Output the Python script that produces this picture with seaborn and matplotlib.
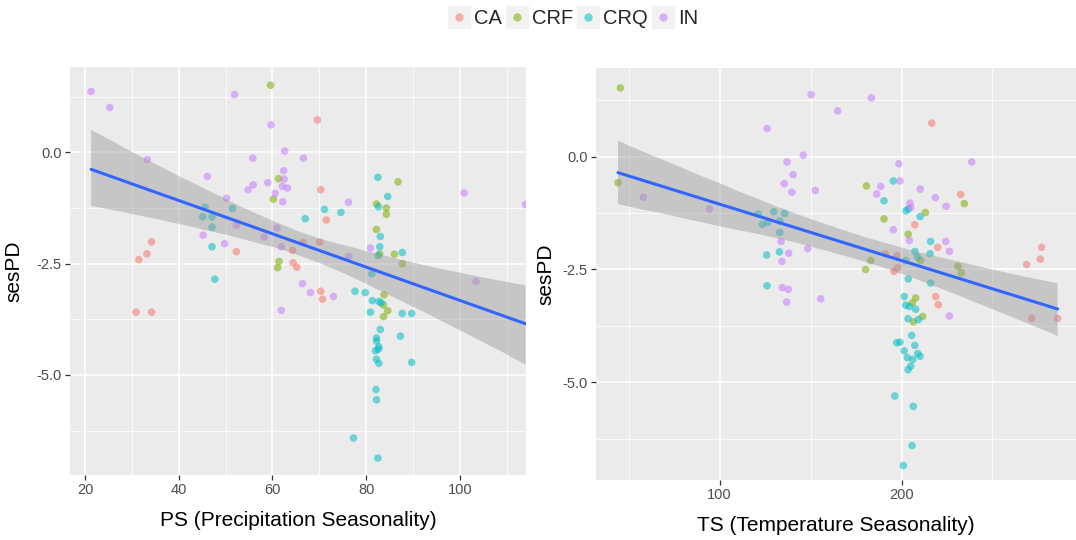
import matplotlib
matplotlib.use("Agg")
import matplotlib.pyplot as plt
import numpy as np
import pandas as pd
import seaborn as sns
from matplotlib.lines import Line2D
from matplotlib.legend_handler import HandlerTuple

sns.set_theme(style="darkgrid")
plt.rcParams["font.family"] = ["Liberation Sans", "DejaVu Sans"]
plt.rcParams["axes.unicode_minus"] = False

sites = ["CA", "CRF", "CRQ", "IN"]
site_colors = ["#F8766D", "#7CAE00", "#00BFC4", "#C77CFF"]

# ---- sesPD against precipitation seasonality (PS) ----
ps_ca_x = [31.5, 33.2, 34.2, 52.3, 64.3, 64.4, 65.2, 69.6, 70.3, 71.5, 66.5, 70.1, 70.3, 70.7, 30.9, 34.2]
ps_ca_y = [-2.41, -2.28, -2.01, -2.23, -2.20, -2.48, -2.58, 0.73, -0.84, -1.52, -2.02, -2.02, -3.12, -3.30, -3.59, -3.59]

ps_crf_x = [59.6, 61.3, 60.2, 61.4, 61.1, 86.8, 82.2, 84.3, 84.3, 82.2, 82.9, 86.0, 87.7, 83.8, 83.7, 84.6, 83.7]
ps_crf_y = [1.51, -0.59, -1.05, -2.45, -2.59, -0.66, -1.16, -1.25, -1.39, -1.73, -2.28, -2.29, -2.50, -3.20, -3.43, -3.56, -3.69]

ps_crq_x = [45.6, 45.1, 47.1, 51.5, 47.1, 47.1, 47.7, 82.5, 84.6, 71.1, 74.6, 67.0, 82.6, 83.0, 82.9, 82.5,
            87.7, 81.2, 77.6, 79.8, 81.3, 82.7, 83.2, 80.9, 87.7, 89.7, 83.0, 82.2, 82.2, 82.7, 82.0, 82.6,
            87.3, 82.2, 82.7, 89.7, 82.1, 82.2, 77.3, 82.5]
ps_crq_y = [-1.23, -1.45, -1.45, -1.26, -1.68, -2.12, -2.85, -0.56, -0.99, -1.28, -1.35, -1.49, -1.22, -1.89, -2.12, -2.32,
            -2.25, -2.73, -3.12, -3.15, -3.33, -3.35, -3.38, -3.59, -3.62, -3.62, -3.98, -4.17, -4.24, -4.37, -4.46, -4.42,
            -4.13, -4.65, -4.74, -4.72, -5.33, -5.56, -6.42, -6.87]

ps_in_x = [21.3, 25.3, 51.9, 59.7, 62.6, 33.3, 55.8, 46.1, 62.4, 62.5, 55.9, 54.8, 59.0, 62.1, 63.2, 60.6, 62.2, 50.2,
           52.3, 45.2, 61.0, 58.2, 49.8, 61.9, 66.6, 100.9, 114.0, 76.2, 80.9, 76.3, 103.4, 66.4, 68.1, 73.0, 61.9]
ps_in_y = [1.37, 1.01, 1.30, 0.62, 0.03, -0.16, -0.13, -0.54, -0.41, -0.60, -0.73, -0.84, -0.68, -0.76, -0.80, -0.92, -1.11, -1.03,
           -1.64, -1.86, -1.70, -1.90, -2.05, -2.12, -0.13, -0.91, -1.17, -1.12, -2.15, -2.34, -2.90, -2.95, -3.15, -3.24, -3.55]

# ---- sesPD against temperature seasonality (TS) ----
ts_ca_x = [216.6, 232.5, 207.3, 219.9, 197.4, 191.1, 195.9, 197.9, 277.0, 276.3, 268.8, 218.8, 220.2, 271.5, 285.8]
ts_ca_y = [0.74, -0.84, -1.51, -2.01, -2.19, -2.15, -2.54, -2.46, -2.01, -2.27, -2.39, -3.10, -3.28, -3.58, -3.58]

ts_crf_x = [45.5, 44.2, 180.7, 234.5, 213.1, 190.4, 203.7, 210.5, 183.1, 180.3, 231.0, 232.9, 207.8, 205.9, 211.6, 206.5]
ts_crf_y = [1.52, -0.58, -0.65, -1.04, -1.24, -1.38, -1.72, -2.30, -2.30, -2.50, -2.43, -2.57, -3.13, -3.24, -3.54, -3.66]

ts_crq_x = [195.5, 190.4, 121.3, 129.8, 135.8, 123.5, 126.5, 133.1, 133.1, 125.9, 132.9, 126.1, 202.5, 203.7, 210.2,
            216.0, 215.7, 207.4, 208.9, 202.3, 203.7, 216.0, 201.5, 202.3, 204.3, 207.8, 203.6, 209.2, 205.6, 197.4,
            199.2, 207.3, 201.5, 208.9, 210.2, 203.2, 206.2, 205.1, 203.6, 196.3, 206.5, 205.8, 201.0]
ts_crq_y = [-0.54, -0.98, -1.27, -1.22, -1.26, -1.50, -1.46, -1.43, -1.68, -2.18, -2.11, -2.86, -1.20, -1.16, -1.33,
            -1.88, -2.15, -2.10, -2.23, -2.30, -2.71, -2.80, -3.10, -3.29, -3.32, -3.38, -3.59, -3.61, -3.96, -4.12,
            -4.11, -4.18, -4.30, -4.36, -4.42, -4.45, -4.49, -4.64, -4.72, -5.30, -5.53, -6.40, -6.84]

ts_in_x = [126.1, 150.3, 146.0, 137.1, 140.4, 135.6, 139.7, 152.6, 58.1, 94.4, 133.8, 138.0, 134.3, 148.5, 134.5, 137.8,
           136.9, 155.6, 183.4, 164.9, 198.5, 238.6, 188.6, 186.4, 199.2, 210.3, 218.6, 224.5, 204.7, 205.1, 195.5,
           204.3, 224.3, 226.3, 226.3]
ts_in_y = [0.62, 1.37, 0.03, -0.12, -0.40, -0.60, -0.79, -0.75, -0.90, -1.16, -1.88, -2.14, -2.32, -2.04, -2.90, -2.94,
           -3.22, -3.15, 1.30, 1.01, -0.16, -0.12, -0.66, -0.83, -0.54, -0.72, -0.91, -1.10, -1.03, -1.13, -1.62,
           -1.86, -1.88, -2.10, -3.53]

y_ticks = [-5.0, -2.5, 0.0]
y_tick_labels = ["-5.0", "-2.5", "0.0"]
y_minor = [-6.25, -3.75, -1.25, 1.25]
ps_ticks = [20, 40, 60, 80, 100]
ps_minor = [30, 50, 70, 90, 110]
ts_ticks = [100, 200]
ts_minor = [50, 150, 250]


def build_frame(xname, groups):
    parts = []
    for site, xs, ys in groups:
        parts.append(pd.DataFrame({xname: xs, "sesPD": ys, "site": site}))
    return pd.concat(parts, ignore_index=True)


ps_df = build_frame("PS", [("CA", ps_ca_x, ps_ca_y), ("CRF", ps_crf_x, ps_crf_y),
                           ("CRQ", ps_crq_x, ps_crq_y), ("IN", ps_in_x, ps_in_y)])
ts_df = build_frame("TS", [("CA", ts_ca_x, ts_ca_y), ("CRF", ts_crf_x, ts_crf_y),
                           ("CRQ", ts_crq_x, ts_crq_y), ("IN", ts_in_x, ts_in_y)])

fig = plt.figure(figsize=(10.76, 5.40), dpi=100)
fig.patch.set_facecolor("white")
ax1 = fig.add_axes([70 / 1076, 1 - 475 / 540, 456 / 1076, 408 / 540])
ax2 = fig.add_axes([596 / 1076, 1 - 480 / 540, 480 / 1076, 412 / 540])


def panel(ax, df, xname, xlabel, xlim, ylim, xticks, xminor, ypad):
    sns.scatterplot(data=df, x=xname, y="sesPD", hue="site", hue_order=sites,
                    palette=site_colors, s=30, alpha=0.55, linewidth=0,
                    legend=False, ax=ax)
    sns.regplot(data=df, x=xname, y="sesPD", scatter=False, ax=ax,
                color="#3366FF", line_kws=dict(lw=2.2), ci=95, n_boot=2000, seed=3)
    band = ax.collections[-1]
    band.set_facecolor("#999999")
    band.set_alpha(0.45)
    band.set_edgecolor("none")
    ax.set_facecolor("#EBEBEB")
    for s in ax.spines.values():
        s.set_visible(False)
    ax.set_xlim(*xlim)
    ax.set_ylim(*ylim)
    ax.set_xticks(xticks)
    ax.set_xticklabels([str(t) for t in xticks])
    ax.set_xticks(xminor, minor=True)
    ax.set_yticks(y_ticks)
    ax.set_yticklabels(y_tick_labels)
    ax.set_yticks(y_minor, minor=True)
    ax.grid(which="major", color="white", lw=1.1)
    ax.grid(which="minor", color="white", lw=0.55)
    ax.set_axisbelow(True)
    ax.tick_params(which="major", bottom=True, left=True, length=3.5, width=0.9,
                   color="#333333", labelsize=10.5, labelcolor="#4D4D4D", pad=2.5)
    ax.tick_params(which="minor", length=0)
    ax.set_xlabel(xlabel, fontsize=15, color="black", labelpad=10)
    ax.set_ylabel("sesPD", fontsize=15, color="black", labelpad=ypad)


panel(ax1, ps_df, "PS", "PS (Precipitation Seasonality)", (16.8, 114.1), (-7.25, 1.92), ps_ticks, ps_minor, 9)
panel(ax2, ts_df, "TS", "TS (Temperature Seasonality)", (32.1, 295.9), (-7.16, 1.96), ts_ticks, ts_minor, 5)

handles = [(Line2D([], [], marker="s", ms=16, color="#F2F2F2", ls="none"),
            Line2D([], [], marker="o", ms=6, color=c, alpha=0.55, ls="none", mew=0))
           for c in site_colors]
fig.legend(handles, sites, loc="center", bbox_to_anchor=(573 / 1076, 1 - 19 / 540), ncol=4,
           frameon=False, fontsize=14.5, handler_map={tuple: HandlerTuple(ndivide=1)},
           handlelength=1.1, handletextpad=0.2, columnspacing=0.2)

fig.savefig("out.png", dpi=100)
